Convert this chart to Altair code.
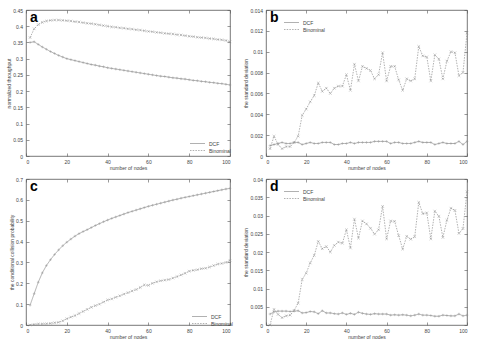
import altair as alt
import pandas as pd

# number of nodes (x axis, shared by all four panels)
nodes = list(range(2, 101, 2))

# (a) normalized throughput
thr_dcf = [0.350, 0.352, 0.344, 0.336, 0.329, 0.322, 0.316, 0.310, 0.305, 0.300,
           0.297, 0.294, 0.291, 0.288, 0.285, 0.282, 0.280, 0.277, 0.275, 0.272,
           0.270, 0.268, 0.266, 0.264, 0.262, 0.260, 0.258, 0.256, 0.254, 0.252,
           0.250, 0.248, 0.246, 0.245, 0.243, 0.241, 0.240, 0.238, 0.237, 0.235,
           0.233, 0.232, 0.230, 0.229, 0.227, 0.226, 0.224, 0.223, 0.221, 0.219]
thr_bin = [0.365, 0.392, 0.405, 0.412, 0.416, 0.418, 0.419, 0.419, 0.418, 0.417,
           0.416, 0.414, 0.413, 0.411, 0.409, 0.408, 0.406, 0.404, 0.402, 0.400,
           0.398, 0.397, 0.395, 0.394, 0.392, 0.391, 0.389, 0.388, 0.386, 0.384,
           0.383, 0.381, 0.380, 0.378, 0.377, 0.376, 0.374, 0.373, 0.371, 0.369,
           0.368, 0.366, 0.365, 0.364, 0.362, 0.361, 0.359, 0.358, 0.356, 0.352]

# (b) standard deviation of throughput
sd_thr_dcf = [0.0010, 0.0011, 0.0012, 0.0013, 0.0012, 0.0012, 0.0013, 0.0013, 0.0011, 0.0012,
              0.0013, 0.0012, 0.0012, 0.0013, 0.0013, 0.0013, 0.0011, 0.0011, 0.0012, 0.0012,
              0.0013, 0.0012, 0.0013, 0.0013, 0.0013, 0.0013, 0.0014, 0.0014, 0.0014, 0.0014,
              0.0012, 0.0013, 0.0013, 0.0012, 0.0012, 0.0012, 0.0013, 0.0014, 0.0013, 0.0013,
              0.0013, 0.0011, 0.0012, 0.0013, 0.0012, 0.0012, 0.0012, 0.0014, 0.0011, 0.0014]
sd_thr_bin = [0.0007, 0.0019, 0.0011, 0.0007, 0.0009, 0.0009, 0.0013, 0.0019, 0.0039, 0.0045,
              0.0052, 0.0058, 0.0070, 0.0062, 0.0065, 0.0060, 0.0065, 0.0067, 0.0067, 0.0078,
              0.0063, 0.0088, 0.0072, 0.0086, 0.0084, 0.0082, 0.0074, 0.0078, 0.0099, 0.0072,
              0.0086, 0.0086, 0.0073, 0.0063, 0.0074, 0.0072, 0.0074, 0.0105, 0.0096, 0.0095,
              0.0072, 0.0097, 0.0093, 0.0074, 0.0091, 0.0100, 0.0099, 0.0077, 0.0080, 0.0118]

# (c) conditional collision probability
col_dcf = [0.095, 0.150, 0.205, 0.250, 0.285, 0.313, 0.338, 0.360, 0.380, 0.397,
           0.412, 0.426, 0.438, 0.448, 0.457, 0.467, 0.477, 0.486, 0.495, 0.503,
           0.511, 0.518, 0.525, 0.532, 0.539, 0.545, 0.551, 0.557, 0.563, 0.569,
           0.574, 0.579, 0.584, 0.589, 0.594, 0.599, 0.603, 0.608, 0.612, 0.616,
           0.620, 0.624, 0.628, 0.632, 0.636, 0.640, 0.644, 0.648, 0.652, 0.655]
col_bin = [0.000, 0.003, 0.005, 0.005, 0.006, 0.008, 0.011, 0.013, 0.020, 0.030,
           0.038, 0.045, 0.055, 0.065, 0.075, 0.085, 0.093, 0.100, 0.110, 0.120,
           0.125, 0.133, 0.140, 0.148, 0.155, 0.163, 0.170, 0.180, 0.192, 0.190,
           0.200, 0.207, 0.212, 0.215, 0.218, 0.225, 0.232, 0.240, 0.248, 0.258,
           0.262, 0.265, 0.270, 0.272, 0.278, 0.285, 0.292, 0.295, 0.300, 0.310]

# (d) standard deviation of collision probability
sd_col_dcf = [0.0030, 0.0036, 0.0038, 0.0038, 0.0038, 0.0037, 0.0038, 0.0039, 0.0033, 0.0034,
              0.0037, 0.0036, 0.0031, 0.0039, 0.0033, 0.0033, 0.0031, 0.0030, 0.0033, 0.0029,
              0.0032, 0.0029, 0.0035, 0.0032, 0.0030, 0.0029, 0.0031, 0.0030, 0.0030, 0.0030,
              0.0027, 0.0028, 0.0027, 0.0028, 0.0027, 0.0025, 0.0027, 0.0030, 0.0027, 0.0027,
              0.0026, 0.0024, 0.0024, 0.0027, 0.0026, 0.0025, 0.0025, 0.0030, 0.0025, 0.0027]
sd_col_bin = [0.0000, 0.0043, 0.0029, 0.0020, 0.0025, 0.0027, 0.0040, 0.0060, 0.0125, 0.0142,
              0.0170, 0.0191, 0.0229, 0.0209, 0.0215, 0.0200, 0.0218, 0.0227, 0.0224, 0.0261,
              0.0211, 0.0290, 0.0238, 0.0285, 0.0277, 0.0265, 0.0249, 0.0261, 0.0325, 0.0236,
              0.0285, 0.0284, 0.0245, 0.0208, 0.0243, 0.0235, 0.0242, 0.0336, 0.0305, 0.0307,
              0.0236, 0.0312, 0.0298, 0.0240, 0.0287, 0.0320, 0.0314, 0.0251, 0.0264, 0.0365]

series_names = ["DCF", "Binominal"]
x_ticks = [0, 20, 40, 60, 80, 100]

GRAY = "#8f8f8f"
AXIS = "#555555"
TEXT = "#444444"
FONT = "Liberation Sans"
PLUS = "M-1,0L1,0M0,-1L0,1"
CROSS = "M-1,-1L1,1M-1,1L1,-1"
# flat line sample for the key: long but with almost no height, so rows stay tight
KEY_LINE = "M-2.5,0L2.5,0"


def frame(dcf, binom):
    return pd.DataFrame({
        "n": nodes * 2,
        "v": dcf + binom,
        "series": ["DCF"] * len(nodes) + ["Binominal"] * len(nodes),
    })


def panel(df, ymax, y_ticks, y_title, letter, legend_xy, w):
    xs = alt.Scale(domain=[0, 100], nice=False)
    ys = alt.Scale(domain=[0, ymax], nice=False)
    # gnuplot-style ticks: pulled inside the frame by a negative offset
    x = alt.X("n:Q", scale=xs,
              axis=alt.Axis(values=x_ticks, title="number of nodes", offset=-3))
    y = alt.Y("v:Q", scale=ys,
              axis=alt.Axis(values=y_ticks, format="~g", title=y_title, offset=-3))
    base = alt.Chart(df)
    lines = base.mark_line(color=GRAY, strokeWidth=0.7).encode(
        x=x, y=y,
        strokeDash=alt.StrokeDash(
            "series:N",
            scale=alt.Scale(domain=series_names, range=[[1, 0], [1.5, 1.2]]),
            sort=series_names,
            legend=alt.Legend(title=None, orient="none",
                              legendX=legend_xy[0], legendY=legend_xy[1],
                              symbolType=KEY_LINE,
                              symbolStrokeColor=GRAY, symbolStrokeWidth=0.7,
                              symbolSize=36, labelFontSize=5, labelFont=FONT,
                              labelColor=TEXT, rowPadding=0, padding=0,
                              labelOffset=8),
        ),
    )
    pts_dcf = base.transform_filter(alt.datum.series == "DCF").mark_point(
        shape=PLUS, color=GRAY, strokeWidth=0.6, size=7, filled=False
    ).encode(x=x, y=y)
    pts_bin = base.transform_filter(alt.datum.series == "Binominal").mark_point(
        shape=CROSS, color=GRAY, strokeWidth=0.6, size=7, filled=False
    ).encode(x=x, y=y)
    tag = alt.Chart(pd.DataFrame({"t": [letter]})).mark_text(
        font=FONT, fontWeight="bold", fontSize=14, color="black",
        align="left", baseline="alphabetic",
    ).encode(x=alt.value(4), y=alt.value(12), text="t:N")
    drawn = alt.layer(lines, pts_dcf, pts_bin, tag)
    # mirrored ticks on the top and right edges of the frame
    mirror = base.mark_point(opacity=0).encode(
        x=alt.X("n:Q", scale=xs,
                axis=alt.Axis(values=x_ticks, orient="top", labels=False,
                              title=None, offset=-3)),
        y=alt.Y("v:Q", scale=ys,
                axis=alt.Axis(values=y_ticks, orient="right", labels=False,
                              title=None, offset=-3)),
    )
    return alt.layer(drawn, mirror).resolve_axis(
        x="independent", y="independent"
    ).properties(width=w, height=146)


a = panel(frame(thr_dcf, thr_bin), 0.45,
          [0, 0.05, 0.1, 0.15, 0.2, 0.25, 0.3, 0.35, 0.4, 0.45],
          "normalized throughput", "a", (168, 130), 204)
b = panel(frame(sd_thr_dcf, sd_thr_bin), 0.014,
          [0, 0.002, 0.004, 0.006, 0.008, 0.01, 0.012, 0.014],
          "the standard deviation", "b", (22, 9), 201)
c = panel(frame(col_dcf, col_bin), 0.7,
          [0, 0.1, 0.2, 0.3, 0.4, 0.5, 0.6, 0.7],
          "the conditional collision probability", "c", (170, 134), 204)
d = panel(frame(sd_col_dcf, sd_col_bin), 0.04,
          [0, 0.005, 0.01, 0.015, 0.02, 0.025, 0.03, 0.035, 0.04],
          "the standard deviation", "d", (22, 9), 201)

chart = alt.concat(a, b, c, d, columns=2).properties(
    spacing={"row": 23, "column": 36},
    bounds="flush",
    padding={"left": 6, "top": 7, "right": 5, "bottom": 4},
    background="white",
).resolve_scale(
    strokeDash="independent"
).configure_view(
    stroke=AXIS, strokeWidth=0.8
).configure_axis(
    grid=False, domain=False, ticks=True, tickSize=3, tickColor=AXIS, tickWidth=0.6,
    labelFont=FONT, labelFontSize=5, labelColor=TEXT, labelPadding=3.5,
    titleFont=FONT, titleFontSize=5, titleFontWeight="normal", titleColor=TEXT,
    titlePadding=1,
)

chart.save("out.html", embed_options={"renderer": "svg", "actions": False})
